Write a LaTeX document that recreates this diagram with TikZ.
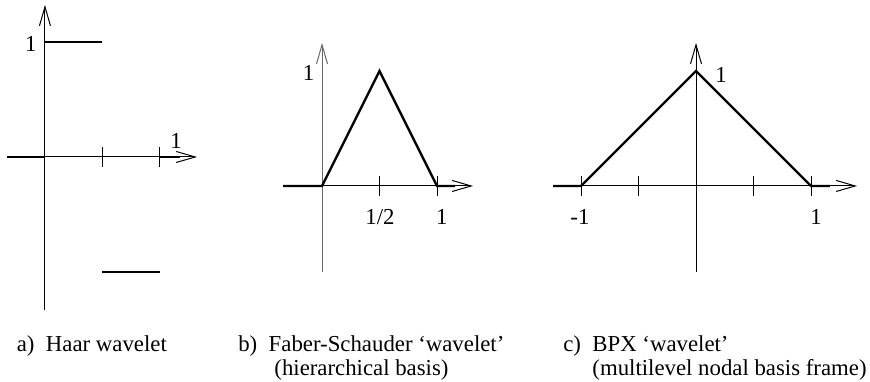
\documentclass[tikz,border=0pt]{standalone}
\usepackage{fontspec}
\setmainfont{Liberation Serif}
\usepackage{tikz}
\usetikzlibrary{arrows.meta}
\definecolor{ink}{RGB}{0,0,0}
\definecolor{axisgray}{RGB}{105,105,105}
\tikzset{
  axis/.style={line width=0.5pt,ink,-{Straight Barb[length=9.5pt,width=5.5pt]}},
  graph/.style={line width=1.15pt,ink,line join=miter},
  tick/.style={line width=0.5pt,ink},
  lbl/.style={font=\fontsize{11.4}{13.7}\selectfont,text=ink,inner sep=0pt,anchor=base},
  caption/.style={font=\fontsize{11.4}{13.7}\selectfont,text=ink,inner sep=0pt,anchor=base west}
}
\begin{document}
\begin{tikzpicture}[x=57.5pt,y=57.5pt]
  \useasboundingbox (-0.391,-1.948) rectangle (7.174,1.365);
  % a) Haar wavelet
  \begin{scope}
    \draw[axis] (0,-1.33)--(0,1.322);
    \draw[axis] (-0.33,0)--(1.322,0);
    \draw[graph] (-0.33,0)--(0,0);
    \draw[graph] (1,0)--(1.174,0);
    \foreach \t in {0.5,1} {\draw[tick] (\t,-0.083)--(\t,0.083);}
    \draw[graph] (0,1)--(0.5,1);
    \draw[graph] (0.5,-1)--(1,-1);
    \node[lbl] (ya) at (-0.122,0.913) {1};
    \node[lbl] (xa) at (1.139,0.078) {1};
  \end{scope}
  % b) Faber-Schauder
  \begin{scope}[shift={(2.409,-0.252)}]
    \draw[axis,axisgray] (0,-0.748)--(0,1.243);
    \draw[axis] (-0.339,0)--(1.313,0);
    \draw[graph] (-0.339,0)--(0,0)--(0.5,1)--(1,0)--(1.157,0);
    \foreach \t in {0.5,1} {\draw[tick] (\t,-0.083)--(\t,0.083);}
    \node[lbl] (yb) at (-0.117,0.913) {1};
    \node[lbl] (hb) at (0.504,-0.339) {1/2};
    \node[lbl] (xb) at (1.041,-0.339) {1};
  \end{scope}
  % c) BPX
  \begin{scope}[shift={(5.661,-0.252)}]
    \draw[axis] (0,-0.748)--(0,1.243);
    \draw[axis] (-1.243,0)--(1.4,0);
    \draw[graph] (-1.243,0)--(-1,0)--(0,1)--(1,0)--(1.165,0);
    \foreach \t in {-1,-0.5,0.5,1} {\draw[tick] (\t,-0.083)--(\t,0.083);}
    \node[lbl] (yc) at (0.217,0.904) {1};
    \node[lbl] (mc) at (-1.009,-0.339) {-1};
    \node[lbl] (xc) at (1.043,-0.339) {1};
  \end{scope}
  % captions
  \node[caption] (capa) at (-0.248,-1.687) {a)~~Haar wavelet};
  \node[caption] (capb) at (1.678,-1.687) {b)~~Faber-Schauder ‘wavelet’};
  \node[caption] (capbx) at (1.678,-1.896) {\phantom{b)~~}~(hierarchical basis)};
  \node[caption] (capc) at (4.504,-1.687) {c)~~BPX ‘wavelet’};
  \node[caption] (capcx) at (4.504,-1.896) {\phantom{c)~~}(multilevel nodal basis frame)};
\end{tikzpicture}
\end{document}
